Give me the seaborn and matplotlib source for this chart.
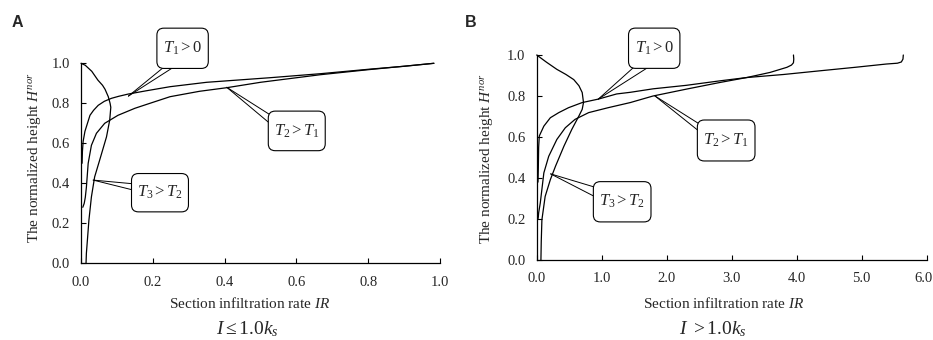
import matplotlib
matplotlib.use("Agg")
import matplotlib.pyplot as plt
import seaborn as sns
import pandas as pd
from matplotlib.patches import FancyBboxPatch
from matplotlib.transforms import Affine2D, ScaledTranslation

# ---------------- data ----------------
# Panel A  (I <= 1.0 ks)
a_t1_x = [0.003, 0.004, 0.006, 0.011, 0.018, 0.025, 0.035, 0.048, 0.065, 0.085, 0.105,
          0.131, 0.18, 0.248, 0.35, 0.527, 0.667, 0.806, 0.90, 0.983]
a_t1_y = [0.50, 0.56, 0.61, 0.66, 0.70, 0.74, 0.765, 0.79, 0.81, 0.825, 0.835,
          0.846, 0.862, 0.883, 0.905, 0.928, 0.948, 0.971, 0.985, 1.0]
a_t2_x = [0.005, 0.009, 0.012, 0.015, 0.02, 0.029, 0.043, 0.066, 0.103, 0.15, 0.187,
          0.248, 0.33, 0.406, 0.50, 0.667, 0.80, 0.983]
a_t2_y = [0.28, 0.30, 0.33, 0.38, 0.50, 0.59, 0.65, 0.70, 0.74, 0.775, 0.797,
          0.833, 0.860, 0.878, 0.905, 0.943, 0.968, 1.0]
a_t3_x = [0.0, 0.012, 0.03, 0.047, 0.06, 0.067, 0.076, 0.081, 0.083, 0.08, 0.071,
          0.052, 0.038, 0.029, 0.022, 0.018, 0.015, 0.014]
a_t3_y = [1.0, 0.99, 0.96, 0.916, 0.89, 0.87, 0.833, 0.80, 0.78, 0.716, 0.632,
          0.516, 0.432, 0.332, 0.215, 0.12, 0.05, 0.0]

# Panel B  (I > 1.0 ks)
b_t1_x = [0.02, 0.025, 0.03, 0.04, 0.11, 0.21, 0.34, 0.49, 0.70, 0.95, 1.23, 1.44,
          1.79, 2.3, 2.82, 3.23, 3.8, 4.36, 4.9, 5.38, 5.55, 5.61, 5.635, 5.64]
b_t1_y = [0.38, 0.45, 0.55, 0.605, 0.653, 0.694, 0.719, 0.743, 0.768, 0.785, 0.81, 0.818,
          0.835, 0.852, 0.874, 0.89, 0.905, 0.923, 0.94, 0.956, 0.96, 0.966, 0.98, 1.0]
b_t2_x = [0.02, 0.025, 0.03, 0.055, 0.11, 0.185, 0.31, 0.44, 0.59, 0.80, 1.1, 1.44,
          1.79, 2.31, 2.82, 3.23, 3.59, 3.85, 3.92, 3.95, 3.955, 3.95]
b_t2_y = [0.20, 0.21, 0.23, 0.278, 0.425, 0.506, 0.588, 0.645, 0.686, 0.719, 0.743, 0.768,
          0.80, 0.834, 0.866, 0.89, 0.915, 0.94, 0.951, 0.962, 0.98, 1.0]
b_t3_x = [0.0, 0.15, 0.31, 0.45, 0.57, 0.65, 0.70, 0.72, 0.70, 0.65, 0.54, 0.42, 0.29, 0.21,
          0.13, 0.08, 0.07, 0.065]
b_t3_y = [1.0, 0.965, 0.93, 0.905, 0.88, 0.85, 0.817, 0.768, 0.735, 0.703, 0.637, 0.556,
          0.458, 0.392, 0.31, 0.196, 0.09, 0.0]

a_xticks = [0.0, 0.2, 0.4, 0.6, 0.8, 1.0]
b_xticks = [0.0, 1.0, 2.0, 3.0, 4.0, 5.0, 6.0]
yticks = [0.0, 0.2, 0.4, 0.6, 0.8, 1.0]

# callout labels: text, box centre, box size (pt), target point, two base points
a_callouts = [
    (r"$T_1>0$", (0.283, 1.075), (37, 29), (0.132, 0.836), [(0.237, 0.99), (0.266, 0.99)]),
    (r"$T_2>T_1$", (0.601, 0.662), (41, 28.5), (0.406, 0.880), [(0.535, 0.733), (0.535, 0.686)]),
    (r"$T_3>T_2$", (0.220, 0.353), (41, 27.6), (0.034, 0.416), [(0.155, 0.396), (0.155, 0.362)]),
]
b_callouts = [
    (r"$T_1>0$", (1.808, 1.033), (37, 29), (0.948, 0.785), [(1.51, 0.945), (1.74, 0.945)]),
    (r"$T_2>T_1$", (2.915, 0.583), (41.5, 29.5), (1.82, 0.800), [(2.55, 0.654), (2.55, 0.615)]),
    (r"$T_3>T_2$", (1.315, 0.284), (41.5, 29), (0.215, 0.420), [(0.95, 0.35), (0.95, 0.30)]),
]

# ---------------- style ----------------
sns.set_style("ticks")
plt.rcParams["font.family"] = ["Liberation Serif", "DejaVu Serif"]
plt.rcParams["mathtext.fontset"] = "custom"
plt.rcParams["mathtext.rm"] = "Liberation Serif"
plt.rcParams["mathtext.it"] = "Liberation Serif:italic"
plt.rcParams["mathtext.bf"] = "Liberation Serif:bold"

fig = plt.figure(figsize=(9.33, 3.4), dpi=100)
W, H = 933.0, 340.0
axA = fig.add_axes([81 / W, 1 - 263.3 / H, 359 / W, 200 / H])
axB = fig.add_axes([536.7 / W, 1 - 260 / H, 390 / W, 205 / H])


def draw_panel(ax, curves, xticks, xlim, callouts):
    for cx, cy in curves:
        df = pd.DataFrame({"IR": cx, "H": cy})
        sns.lineplot(data=df, x="IR", y="H", sort=False, estimator=None,
                     color="black", lw=0.9, ax=ax, clip_on=False)
    ax.set_xlim(*xlim)
    ax.set_ylim(0, 1.0)
    ax.set_xticks(xticks)
    ax.set_xticklabels([f"{v:.1f}" for v in xticks])
    ax.set_yticks(yticks)
    ax.set_yticklabels([f"{v:.1f}" for v in yticks])
    ax.tick_params(axis="both", direction="in", length=3.5, width=0.8,
                   labelsize=10.5, color="black")
    ax.tick_params(axis="x", pad=9)
    ax.tick_params(axis="y", pad=8)
    ax.set_xlabel("")
    ax.set_ylabel("")
    sns.despine(ax=ax)
    for s in ("left", "bottom"):
        ax.spines[s].set_linewidth(0.9)
        ax.spines[s].set_color("black")
    for txt, (bx, by), (bw, bh), (px, py), bases in callouts:
        for (qx, qy) in bases:
            ax.plot([px, qx], [py, qy], color="black", lw=0.7, clip_on=False, zorder=4)
        tr = Affine2D().scale(fig.dpi / 72.0) + ScaledTranslation(bx, by, ax.transData)
        box = FancyBboxPatch((-bw / 2, -bh / 2), bw, bh,
                             boxstyle="round,pad=0,rounding_size=5",
                             transform=tr, facecolor="white", edgecolor="black",
                             lw=0.8, clip_on=False, zorder=5)
        ax.add_patch(box)
        ax.text(bx, by, txt, ha="center", va="center", fontsize=12,
                zorder=6, clip_on=False)


draw_panel(axA, [(a_t1_x, a_t1_y), (a_t2_x, a_t2_y), (a_t3_x, a_t3_y)],
           a_xticks, (0, 1.0), a_callouts)
draw_panel(axB, [(b_t1_x, b_t1_y), (b_t2_x, b_t2_y), (b_t3_x, b_t3_y)],
           b_xticks, (0, 6.0), b_callouts)

# keep the last tick label of panel B inside the canvas
last = axB.get_xticklabels()[-1]
last.set_transform(last.get_transform() + ScaledTranslation(-3.5 / 100, 0, fig.dpi_scale_trans))

# axis labels and captions
ylab = r"The normalized height $H^{nor}$"
xlab = r"Section infiltration rate $IR$"
fig.text(35 / W, 1 - 158 / H, ylab, rotation=90, ha="center", va="center", fontsize=11)
fig.text(487 / W, 1 - 159 / H, ylab, rotation=90, ha="center", va="center", fontsize=11)
fig.text(250 / W, 1 - 303 / H, xlab, ha="center", va="center", fontsize=11)
fig.text(724 / W, 1 - 303 / H, xlab, ha="center", va="center", fontsize=11)
fig.text(247 / W, 1 - 329 / H, r"$I\leq1.0k_s$", ha="center", va="center", fontsize=14)
fig.text(713 / W, 1 - 329 / H, r"$I\ >1.0k_s$", ha="center", va="center", fontsize=14)

fig.text(11.5 / W, 1 - 22.5 / H, "A", family="Liberation Sans", weight="bold",
         fontsize=11.5, ha="left", va="center")
fig.text(465 / W, 1 - 22.5 / H, "B", family="Liberation Sans", weight="bold",
         fontsize=11.5, ha="left", va="center")

fig.savefig("out.png", dpi=100)
